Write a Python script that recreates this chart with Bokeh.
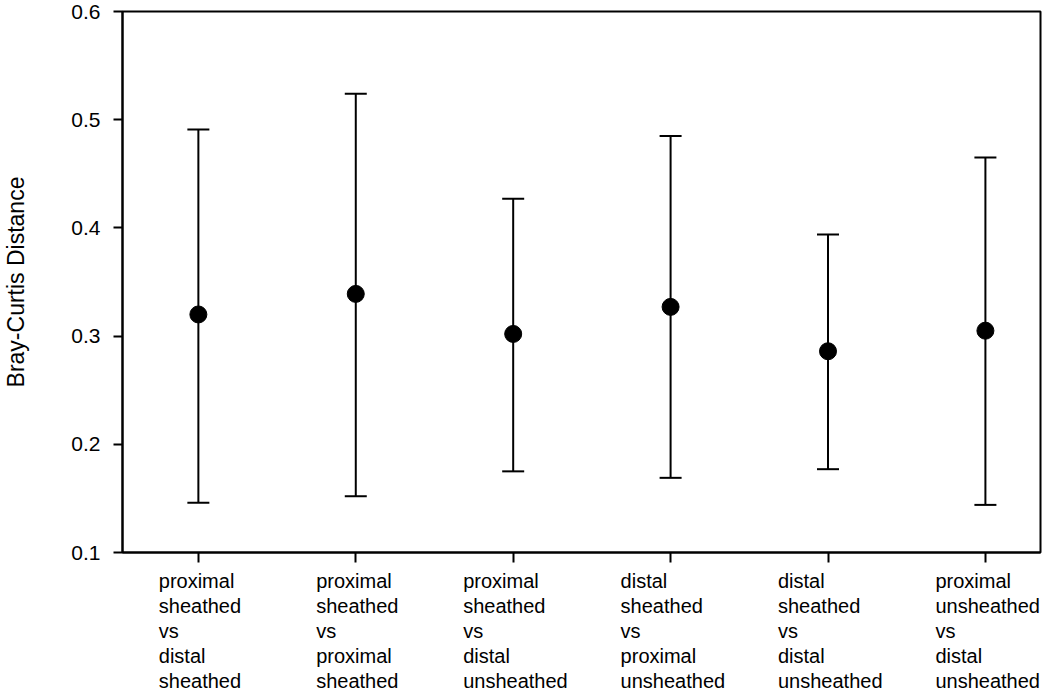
from bokeh.plotting import figure
from bokeh.layouts import column
from bokeh.models import Range1d, FixedTicker, Whisker, ColumnDataSource, TeeHead
from bokeh.core.properties import value
from bokeh.embed import file_html
from bokeh.resources import INLINE

categories = [
    "proximal\nsheathed\nvs\ndistal\nsheathed",
    "proximal\nsheathed\nvs\nproximal\nsheathed",
    "proximal\nsheathed\nvs\ndistal\nunsheathed",
    "distal\nsheathed\nvs\nproximal\nunsheathed",
    "distal\nsheathed\nvs\ndistal\nunsheathed",
    "proximal\nunsheathed\nvs\ndistal\nunsheathed",
]
mean = [0.320, 0.339, 0.302, 0.327, 0.286, 0.305]
upper = [0.491, 0.524, 0.427, 0.485, 0.394, 0.465]
lower = [0.146, 0.152, 0.175, 0.169, 0.177, 0.144]
y_ticks = [0.1, 0.2, 0.3, 0.4, 0.5, 0.6]

positions = list(range(1, len(categories) + 1))
src = ColumnDataSource(dict(x=positions, mean=mean, upper=upper, lower=lower))

FONT = "Liberation Sans"
W = 1050
BL, BR = 121, 10          # frame borders left/right
X0, X1 = 0.518, 6.35
LAB_FS = 20
H1, H2 = 565, 132         # main plot / label strip heights
FIRST_BASE, LINE_STEP = 15, 25.0   # label strip: first baseline and line spacing (px)

# ---------------- main plot ----------------
p = figure(width=W, height=H1, output_backend="svg", toolbar_location=None,
           x_range=Range1d(X0, X1), y_range=Range1d(0.1, 0.6),
           min_border_left=BL, min_border_right=BR, min_border_top=11, min_border_bottom=13)
p.background_fill_color = "white"
p.border_fill_color = "white"
p.grid.visible = False
p.outline_line_color = "black"
p.outline_line_width = 2

p.yaxis.ticker = FixedTicker(ticks=y_ticks)
p.yaxis.axis_label = "Bray-Curtis Distance"
p.yaxis.axis_label_text_font = FONT
p.yaxis.axis_label_text_font_style = "normal"
p.yaxis.axis_label_text_font_size = "23px"
p.yaxis.axis_label_text_color = "black"
p.yaxis.axis_label_standoff = 39
p.yaxis.major_label_text_font = FONT
p.yaxis.major_label_text_font_size = "21px"
p.yaxis.major_label_text_color = "black"
p.yaxis.major_label_standoff = 13
p.yaxis.major_tick_out = 9
p.yaxis.major_tick_in = 0
p.yaxis.minor_tick_out = 0
p.yaxis.minor_tick_in = 0
p.yaxis.major_tick_line_width = 2
p.yaxis.axis_line_width = 2

p.xaxis.ticker = FixedTicker(ticks=positions)
p.xaxis.major_label_text_font_size = "0px"
p.xaxis.major_label_standoff = 0
p.xaxis.major_tick_out = 10
p.xaxis.major_tick_in = 0
p.xaxis.minor_tick_out = 0
p.xaxis.major_tick_line_width = 2
p.xaxis.axis_line_width = 2

whisk = Whisker(source=src, base="x", upper="upper", lower="lower", dimension="height",
                line_width=2, line_color="black",
                upper_head=TeeHead(size=22, line_width=2, line_color="black"),
                lower_head=TeeHead(size=22, line_width=2, line_color="black"))
p.add_layout(whisk)
p.scatter("x", "mean", source=src, size=17, color="black")

# ---------------- category labels (left-aligned lines) ----------------
lx, ly, lt, lo = [], [], [], []
for k, c in zip(positions, categories):
    lines = c.split("\n")
    est_w = max(len(s) for s in lines) * 0.52 * LAB_FS
    for i, s in enumerate(lines):
        lx.append(k)
        ly.append(i)
        lt.append(s)
        lo.append(2 - est_w / 2)
lab_src = ColumnDataSource(dict(x=lx, y=ly, text=lt, xoff=lo))

y_top = -FIRST_BASE / LINE_STEP
y_bot = (H2 - FIRST_BASE) / LINE_STEP
p2 = figure(width=W, height=H2, output_backend="svg", toolbar_location=None,
            x_range=p.x_range, y_range=Range1d(y_bot, y_top),
            min_border_left=BL, min_border_right=BR, min_border_top=0, min_border_bottom=0)
p2.axis.visible = False
p2.grid.visible = False
p2.outline_line_color = None
p2.background_fill_color = "white"
p2.border_fill_color = "white"
p2.text("x", "y", text="text", source=lab_src, x_offset="xoff",
        text_align="left", text_baseline="alphabetic",
        text_font=value(FONT), text_font_size=f"{LAB_FS}px", text_color="black")

layout = column(p, p2, spacing=0)
open("out.html", "w").write(file_html(layout, INLINE))
